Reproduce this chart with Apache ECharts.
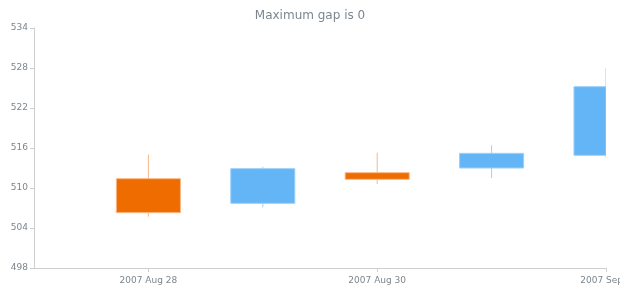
<!DOCTYPE html>
<html><head><meta charset="utf-8">
<script src="https://cdn.jsdelivr.net/npm/echarts@6/dist/echarts.min.js"></script>
<style>html,body{margin:0;padding:0;background:#fff}#c{width:620px;height:300px}</style>
</head><body><div id="c"></div>
<script>
const axisDays = ['2007 Aug 27','2007 Aug 28','2007 Aug 29','2007 Aug 30','2007 Aug 31','2007 Sep 1'];
const candleDays = ['2007 Aug 28','2007 Aug 29','2007 Aug 30','2007 Aug 31','2007 Sep 1'];
const openVals  = [511.4, 507.7, 512.3, 513.0, 514.9];
const closeVals = [506.3, 512.9, 511.3, 515.2, 525.2];
const lowVals   = [505.7, 507.1, 510.6, 511.5, 514.6];
const highVals  = [515.0, 513.2, 515.3, 516.4, 528.0];
const yTicks = [498, 504, 510, 516, 522, 528, 534];

const data = candleDays.map((d,i) => [axisDays.indexOf(d), openVals[i], closeVals[i], lowVals[i], highVals[i]]);
const labelDays = ['2007 Aug 28','2007 Aug 30','2007 Sep 1'];
const showTick = (i) => labelDays.indexOf(axisDays[i]) >= 0;
const font = 'DejaVu Sans';
const UP = {fill:'#64b5f6', stroke:'#9dd0fa'};
const DOWN = {fill:'#ef6c00', stroke:'#f9b886'};

function renderCandle(params, api){
  const x = api.value(0);
  const o = api.coord([x, api.value(1)]);
  const c = api.coord([x, api.value(2)]);
  const l = api.coord([x, api.value(3)]);
  const h = api.coord([x, api.value(4)]);
  const w = api.size([1, 0])[0] * 0.56;
  const col = api.value(2) >= api.value(1) ? UP : DOWN;
  const cs = params.coordSys;
  const body = echarts.graphic.clipRectByRect({
    x: o[0] - w/2, y: Math.min(o[1], c[1]), width: w, height: Math.abs(o[1] - c[1])
  }, {x: cs.x, y: cs.y, width: cs.width, height: cs.height});
  const children = [{
    type:'line', shape:{x1:h[0], y1:h[1], x2:l[0], y2:l[1]},
    style:{stroke:col.stroke, lineWidth:1}
  }];
  if (body) children.push({type:'rect', shape: body, style:{fill:col.fill, stroke:col.stroke, lineWidth:1}});
  return {type:'group', children};
}

const chart = echarts.init(document.getElementById('c'));
chart.setOption({
  animation:false,
  title:{text:'Maximum gap is 0',left:'center',top:5,textStyle:{fontFamily:font,fontSize:12,fontWeight:'normal',color:'#7c868e'}},
  grid:{left:34,right:14,top:28,bottom:32,containLabel:false,outerBoundsMode:'none'},
  xAxis:{type:'category',data:axisDays,boundaryGap:false,
    axisLine:{lineStyle:{color:'#cecece'}},
    axisTick:{interval:showTick,length:4,lineStyle:{color:'#cecece'}},
    axisLabel:{interval:showTick,fontFamily:font,fontSize:9,color:'#7c868e',margin:8,hideOverlap:false},
    splitLine:{show:false}},
  yAxis:{type:'value',min:yTicks[0],max:yTicks[yTicks.length-1],interval:6,
    axisLine:{show:true,lineStyle:{color:'#cecece'}},
    axisTick:{show:true,length:4,lineStyle:{color:'#cecece'}},
    axisLabel:{fontFamily:font,fontSize:9,color:'#7c868e',margin:6},
    splitLine:{show:false}},
  series:[{type:'custom',data:data,renderItem:renderCandle,clip:true,
    encode:{x:0,y:[1,2,3,4]}}]
});
</script></body></html>
